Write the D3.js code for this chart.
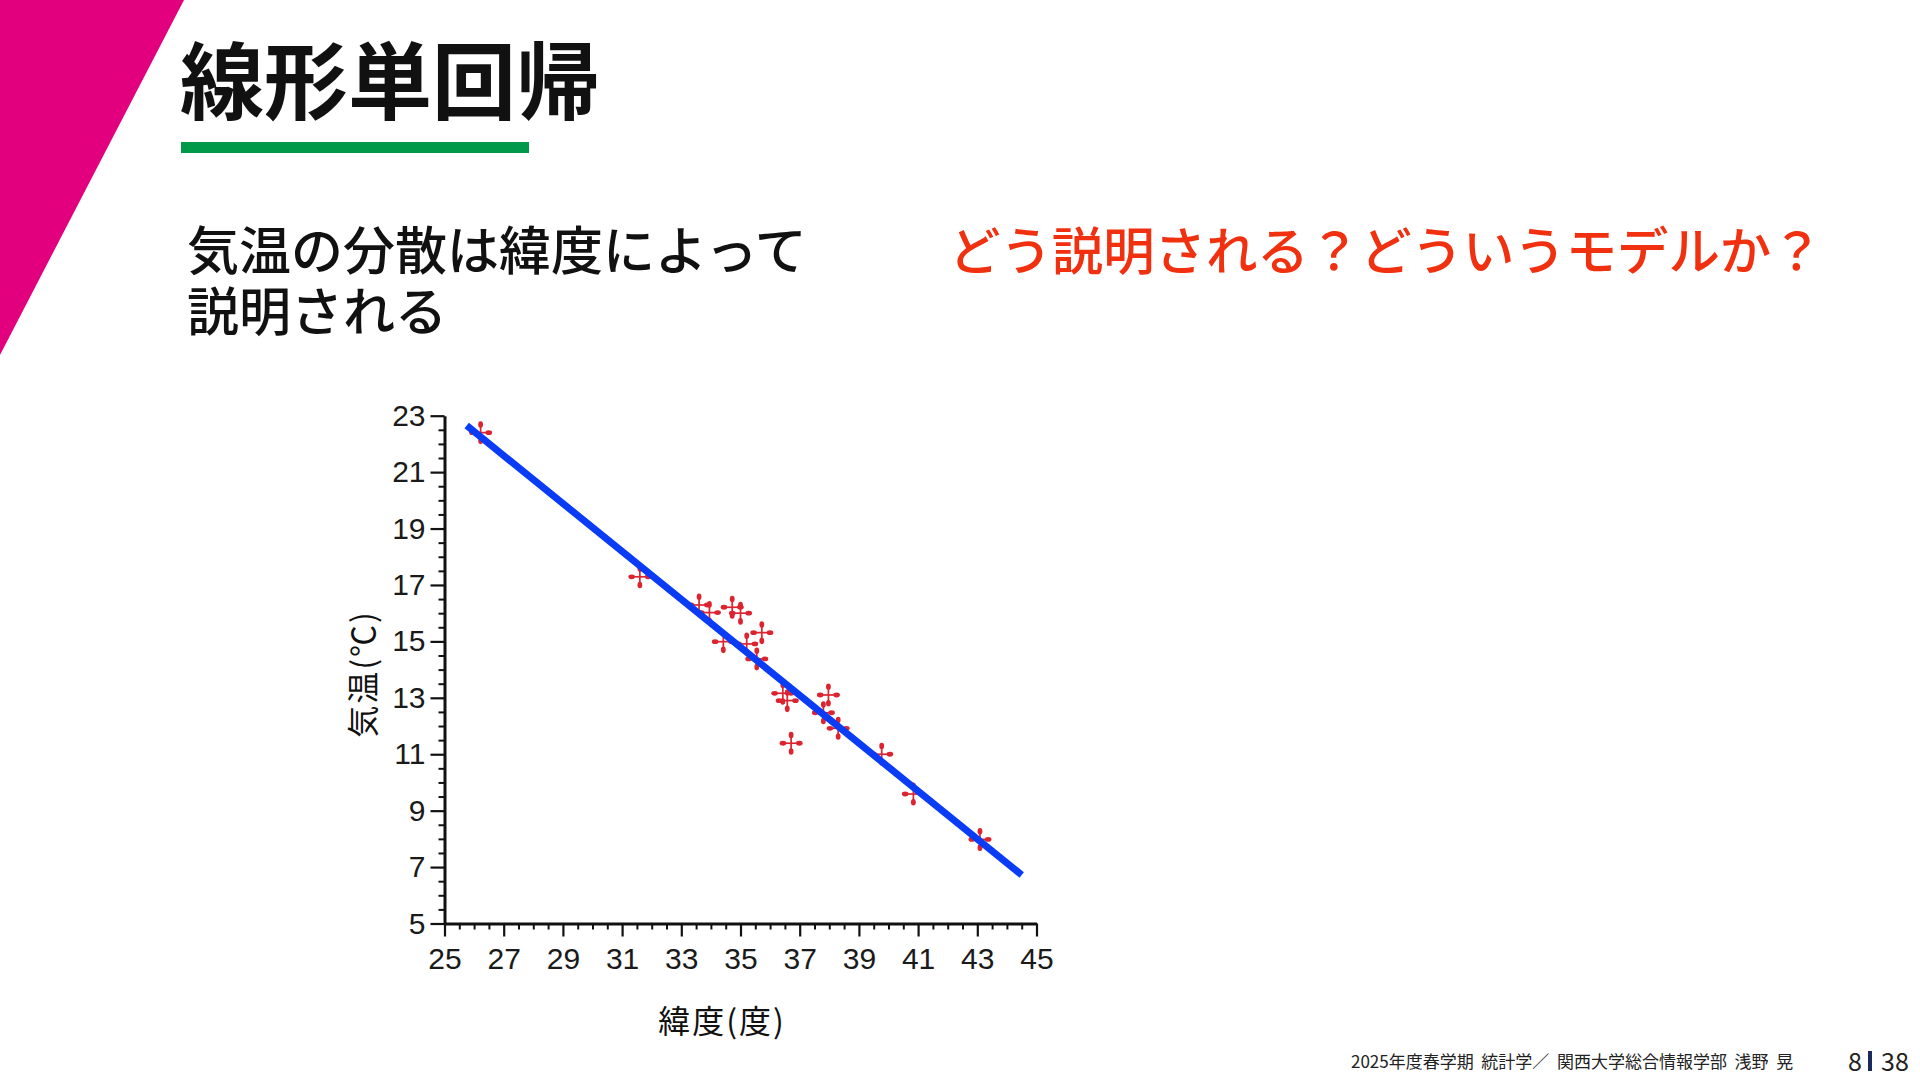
<!DOCTYPE html>
<html>
<head>
<meta charset="utf-8">
<script src="https://cdn.jsdelivr.net/npm/d3@7"></script>
<style>
  body { margin: 0; background: #fff; }
  svg { display: block; }
  .jp { font-family: "Noto Sans CJK JP", "Noto Sans", sans-serif; }
  .axis text { font-family: "Liberation Sans", Arial, sans-serif; font-size: 30px; fill: #1a1a1a; }
  .axis path, .axis line { stroke: #111; }
</style>
</head>
<body>
<svg id="slide" width="1920" height="1080"></svg>
<script>
// latitude (deg) and mean temperature (C)
var latitude = [26.22, 31.60, 33.60, 33.95, 34.72, 35.00, 35.72, 34.42, 35.21, 35.55,
                36.43, 36.58, 37.97, 37.80, 38.30, 36.71, 39.77, 40.84, 43.09];
var temperature = [22.40, 17.29, 16.29, 16.02, 16.21, 16.00, 15.31, 14.99, 14.91, 14.38,
                   13.16, 12.90, 13.10, 12.47, 11.92, 11.39, 11.00, 9.59, 7.98];

// regression line end points
var fitLat = [25.75, 44.50];
var fitTemp = [22.65, 6.72];

var xTicks = [25, 27, 29, 31, 33, 35, 37, 39, 41, 43, 45];
var yTicks = [5, 7, 9, 11, 13, 15, 17, 19, 21, 23];

var svg = d3.select("#slide");

// pink wedge on the left
svg.append("polygon")
    .attr("points", "0,0 184,0 0,355")
    .attr("fill", "#e2007f");

// title + underline
svg.append("text").attr("class", "jp")
    .attr("x", 180).attr("y", 113)
    .attr("font-size", 84).attr("font-weight", "bold")
    .attr("fill", "#111")
    .text("線形単回帰");
svg.append("rect")
    .attr("x", 181).attr("y", 142).attr("width", 348).attr("height", 11)
    .attr("fill", "#00994a");

// body text
svg.append("text").attr("class", "jp")
    .attr("x", 187).attr("y", 270).attr("font-size", 52).attr("font-weight", 500).attr("fill", "#111")
    .text("気温の分散は緯度によって");
svg.append("text").attr("class", "jp")
    .attr("x", 187).attr("y", 331).attr("font-size", 52).attr("font-weight", 500).attr("fill", "#111")
    .text("説明される");
svg.append("text").attr("class", "jp")
    .attr("x", 949).attr("y", 270).attr("font-size", 51.4).attr("font-weight", 500).attr("fill", "#f0300f")
    .text("どう説明される？どういうモデルか？");

// chart
var x = d3.scaleLinear().domain([25, 45]).range([444.5, 1036.5]);
var y = d3.scaleLinear().domain([5, 23]).range([923.5, 415.7]);

var minorX = d3.range(25, 45.01, 0.5).filter(function(v){ return v % 2 != 1; });
var minorY = d3.range(5, 23.01, 0.5).filter(function(v){ return v % 2 != 1; });

svg.append("g").attr("class", "axis")
    .attr("transform", "translate(0," + y(5) + ")")
    .call(d3.axisBottom(x).tickValues(minorX).tickSize(6).tickFormat(""))
    .call(function(g){ g.select(".domain").remove(); g.selectAll("line").attr("stroke-width", 2); });
svg.append("g").attr("class", "axis")
    .attr("transform", "translate(" + x(25) + ",0)")
    .call(d3.axisLeft(y).tickValues(minorY).tickSize(6).tickFormat(""))
    .call(function(g){ g.select(".domain").remove(); g.selectAll("line").attr("stroke-width", 2); });

var xAxis = svg.append("g").attr("class", "axis")
    .attr("transform", "translate(0," + y(5) + ")")
    .call(d3.axisBottom(x).tickValues(xTicks).tickSize(13).tickSizeOuter(0).tickPadding(11));
var yAxis = svg.append("g").attr("class", "axis")
    .attr("transform", "translate(" + x(25) + ",0)")
    .call(d3.axisLeft(y).tickValues(yTicks).tickSize(14).tickSizeOuter(0).tickPadding(5));
[xAxis, yAxis].forEach(function(a){
    a.select(".domain").attr("stroke-width", 3);
    a.selectAll(".tick line").attr("stroke-width", 2.2);
});

// axis titles
svg.append("text").attr("class", "jp")
    .attr("x", 722).attr("y", 1033).attr("text-anchor", "middle")
    .attr("font-size", 32).attr("letter-spacing", 2).attr("fill", "#111")
    .text("緯度(度)");
svg.append("text").attr("class", "jp")
    .attr("transform", "translate(375,674) rotate(-90)")
    .attr("text-anchor", "middle")
    .attr("font-size", 32).attr("letter-spacing", 2).attr("fill", "#111")
    .text("気温(℃)");

// data markers (four-petal crosses)
var pts = latitude.map(function(d, i){ return [d, temperature[i]]; });
var marks = svg.append("g").selectAll("g")
    .data(pts).enter().append("g")
    .attr("transform", function(d){ return "translate(" + x(d[0]) + "," + y(d[1]) + ")"; });
[0, 90, 180, 270].forEach(function(a){
    var p = marks.append("g").attr("transform", "rotate(" + a + ")");
    p.append("line").attr("x1", 0).attr("y1", 0).attr("x2", 7).attr("y2", 0)
        .attr("stroke", "#dc2430").attr("stroke-width", 1.7);
    p.append("ellipse").attr("cx", 8.2).attr("cy", 0).attr("rx", 3.3).attr("ry", 2.4)
        .attr("fill", "#dc2430");
});

// fitted line
svg.append("line")
    .attr("x1", x(fitLat[0])).attr("y1", y(fitTemp[0]))
    .attr("x2", x(fitLat[1])).attr("y2", y(fitTemp[1]))
    .attr("stroke", "#0a3cf5").attr("stroke-width", 7);

// footer
svg.append("text").attr("class", "jp")
    .attr("x", 1351).attr("y", 1068).attr("font-size", 17).attr("fill", "#222")
    .attr("xml:space", "preserve")
    .text("2025年度春学期  統計学／  関西大学総合情報学部  浅野  晃");
svg.append("text").attr("class", "jp")
    .attr("x", 1862).attr("y", 1071).attr("text-anchor", "end")
    .attr("font-size", 25).attr("fill", "#222").text("8");
svg.append("rect").attr("x", 1868).attr("y", 1051).attr("width", 4).attr("height", 20)
    .attr("fill", "#1b2a5c");
svg.append("text").attr("class", "jp")
    .attr("x", 1881).attr("y", 1071)
    .attr("font-size", 25).attr("fill", "#222").text("38");
</script>
</body>
</html>
